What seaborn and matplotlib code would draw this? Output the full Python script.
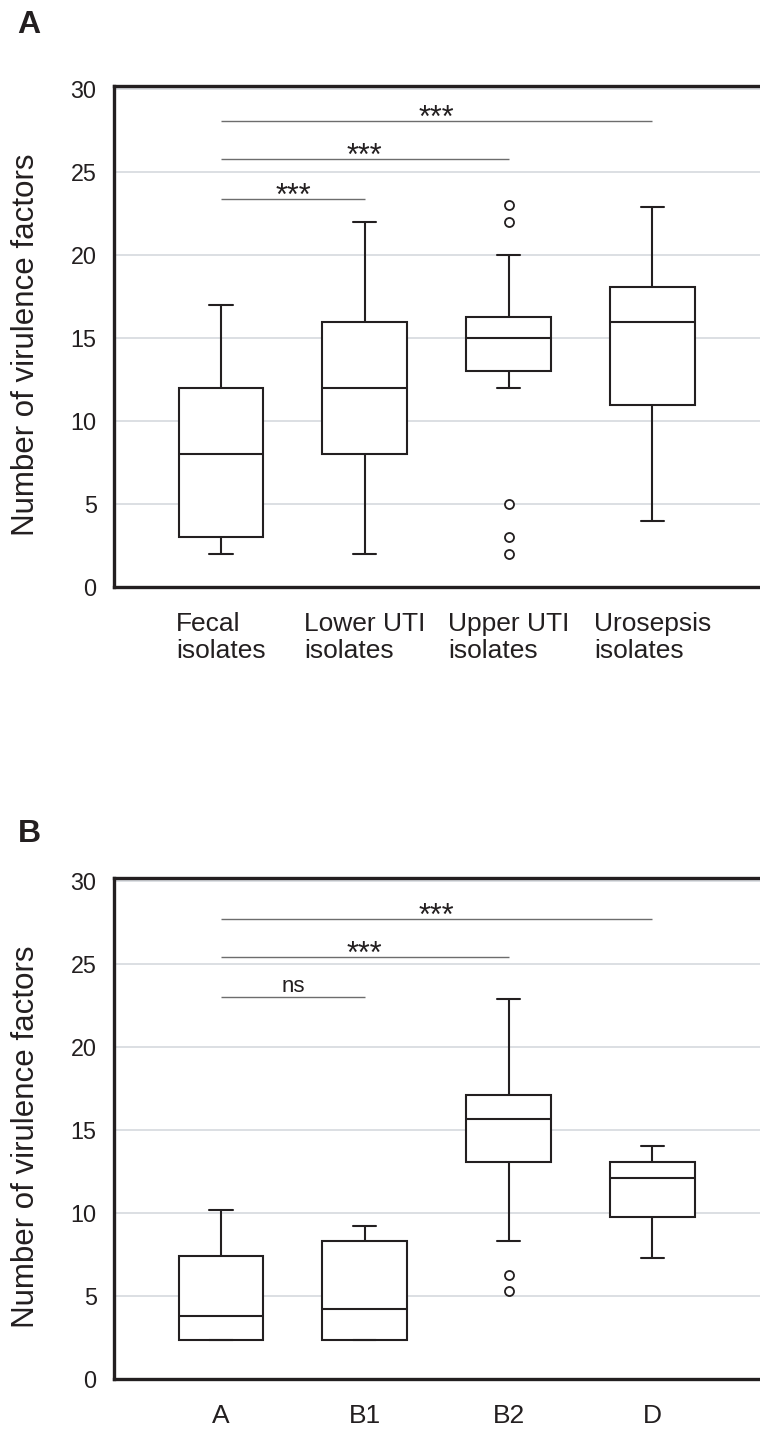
import matplotlib
matplotlib.use('Agg')
import matplotlib.pyplot as plt
import seaborn as sns
import pandas as pd
import numpy as np

# Panel A: box summaries (whisker low, Q1, median, Q3, whisker high)
groups_a = ['Fecal\nisolates', 'Lower UTI\nisolates', 'Upper UTI\nisolates', 'Urosepsis\nisolates']
low_a = [2, 2, 12, 4]
q1_a = [3, 8, 13.05, 11]
med_a = [8, 12, 15, 16]
q3_a = [12, 16, 16.3, 18.1]
high_a = [17, 22, 20, 22.9]
outlier_grp_a = ['Upper UTI\nisolates'] * 5
outlier_val_a = [23, 22, 5, 3, 2]
sig_to_a = [1, 2, 3]
sig_y_a = [23.4, 25.8, 28.1]
sig_txt_a = ['***', '***', '***']

# Panel B
groups_b = ['A', 'B1', 'B2', 'D']
low_b = [2.35, 2.35, 8.3, 7.3]
q1_b = [2.35, 2.35, 13.1, 9.75]
med_b = [3.8, 4.25, 15.65, 12.15]
q3_b = [7.45, 8.3, 17.1, 13.1]
high_b = [10.2, 9.25, 22.9, 14.05]
outlier_grp_b = ['B2', 'B2']
outlier_val_b = [6.3, 5.3]
sig_to_b = [1, 2, 3]
sig_y_b = [23.05, 25.45, 27.75]
sig_txt_b = ['ns', '***', '***']

DARK = '#231f20'

sns.set_style('white')
plt.rcParams['font.family'] = ['Liberation Sans', 'DejaVu Sans']
plt.rcParams['text.color'] = DARK
plt.rcParams['xtick.color'] = DARK
plt.rcParams['ytick.color'] = DARK
plt.rcParams['axes.labelcolor'] = DARK

fig = plt.figure(figsize=(7.6, 14.3), dpi=100)
ax_a = fig.add_axes([0.15, 0.5893, 0.8598, 0.3506])
ax_b = fig.add_axes([0.15, 0.0355, 0.8598, 0.3506])


def draw_panel(ax, groups, lo, q1, med, q3, hi, out_grp, out_val, sig_to, sig_y, sig_txt):
    df = pd.DataFrame({
        'group': np.repeat(groups, 5),
        'value': np.column_stack([lo, q1, med, q3, hi]).ravel(),
    })
    sns.boxplot(data=df, x='group', y='value', order=groups, color='white',
                linecolor=DARK, linewidth=1.5, width=0.59, whis=(0, 100),
                showfliers=False, capwidths=0.162, ax=ax)
    sns.stripplot(x=out_grp, y=out_val, order=groups, jitter=False, color='white',
                  edgecolor=DARK, linewidth=1.3, size=6.5, ax=ax, zorder=5)

    # significance brackets
    for x1, y, txt in zip(sig_to, sig_y, sig_txt):
        ax.plot([0, x1], [y, y], color='#6d6d6d', lw=1.0, solid_capstyle='butt')
        if txt == 'ns':
            ax.annotate(txt, xy=(x1 / 2, y), xytext=(0, 3.2), textcoords='offset points',
                        ha='center', va='baseline', fontsize=16)
        else:
            ax.annotate(txt, xy=(x1 / 2, y), xytext=(0, -4.3), textcoords='offset points',
                        ha='center', va='baseline', fontsize=22)

    ax.set_xlim(-0.744, 3.8)
    ax.set_ylim(0, 30.2)
    ax.set_yticks(range(0, 31, 5))
    ax.yaxis.grid(True, color='#d5d9de', lw=1.2)
    ax.xaxis.grid(False)
    ax.set_axisbelow(True)
    ax.tick_params(axis='y', length=0, pad=12.5, labelsize=16.8)
    ax.tick_params(axis='x', length=0, pad=18, labelsize=19)
    for lbl in ax.get_xticklabels():
        lbl.set_multialignment('left')
        lbl.set_linespacing(1.12)
    for sp in ax.spines.values():
        sp.set_linewidth(2.4)
        sp.set_color(DARK)
    ax.set_xlabel('')
    ax.set_ylabel('Number of virulence factors', fontsize=22.5)
    ax.yaxis.set_label_coords(-0.111, 0.484)


draw_panel(ax_a, groups_a, low_a, q1_a, med_a, q3_a, high_a,
           outlier_grp_a, outlier_val_a, sig_to_a, sig_y_a, sig_txt_a)
draw_panel(ax_b, groups_b, low_b, q1_b, med_b, q3_b, high_b,
           outlier_grp_b, outlier_val_b, sig_to_b, sig_y_b, sig_txt_b)

fig.text(17 / 760, (1430 - 33.3) / 1430, 'A', fontsize=23, weight='bold', va='baseline')
fig.text(18 / 760, (1430 - 841.7) / 1430, 'B', fontsize=23, weight='bold', va='baseline')

fig.savefig('out.png', dpi=100)
